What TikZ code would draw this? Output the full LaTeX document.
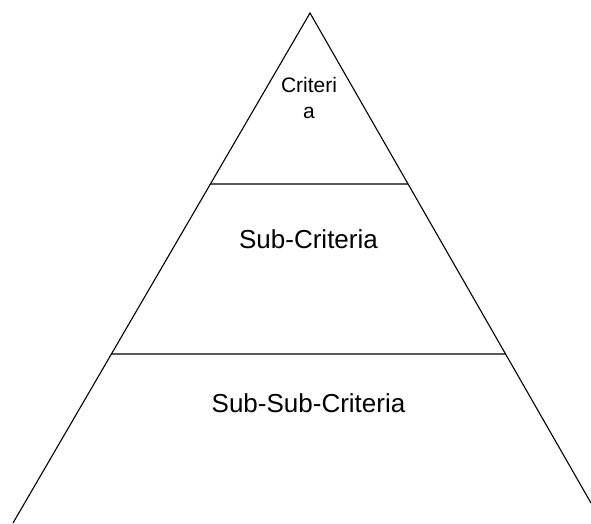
\documentclass[tikz,border=0pt]{standalone}
\usepackage{fontspec}
\setmainfont{Liberation Sans}
\usetikzlibrary{calc}
\begin{document}
\begin{tikzpicture}[x=1pt,y=-1pt,
  edge/.style={line width=1.1pt,black},
  small/.style={font=\fontsize{21}{26}\selectfont,inner sep=0pt,align=center},
  big/.style={font=\fontsize{26}{31}\selectfont,inner sep=0pt}]
\useasboundingbox (0,0) rectangle (591,523);
\coordinate (apex) at (310,13);
\coordinate (bl) at (13,523);
\coordinate (br) at (591,503);
\draw[edge,line join=miter] (bl) -- (apex) -- (br);
\coordinate (l1) at ($(apex)!0.3353!(bl)$);
\coordinate (r1) at ($(apex)!0.3490!(br)$);
\coordinate (l2) at ($(apex)!0.6686!(bl)$);
\coordinate (r2) at ($(apex)!0.6959!(br)$);
\draw[edge] (l1) -- (r1);
\draw[edge] (l2) -- (r2);
\node[small,anchor=base] (crit) at (309,118) {Criteri\\a};
\node[big,anchor=base] (sub) at (308.5,248) {Sub-Criteria};
\node[big,anchor=base] (subsub) at (308.5,412) {Sub-Sub-Criteria};
\end{tikzpicture}
\end{document}
